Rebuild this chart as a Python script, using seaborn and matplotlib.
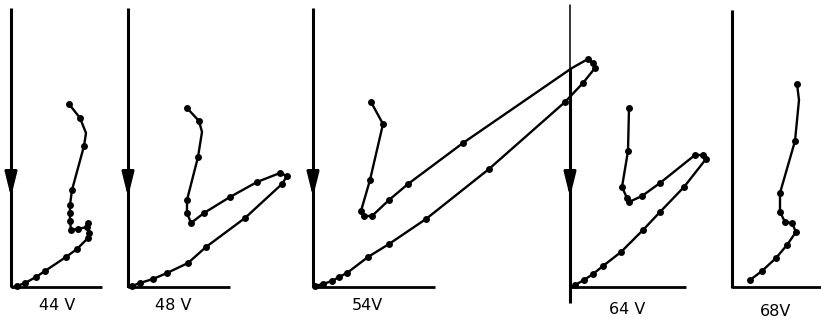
import pandas as pd
import seaborn as sns
import matplotlib.pyplot as plt

# traced trajectories, in picture pixel units (y grows downward)
v44_x = [69, 80, 86, 84, 72, 70, 70, 70, 71, 78, 87, 88, 89, 88, 77, 66, 45, 36, 25, 17, 12]
v44_y = [104, 118, 133, 146, 190, 205, 213, 221, 230, 229, 227, 223, 233, 238, 249, 257, 271, 277, 283, 286, 287]
v44_dot = [1, 1, 0, 1, 1, 1, 1, 1, 1, 1, 1, 1, 1, 1, 1, 1, 1, 1, 1, 1, 0]

v48_x = [187, 199, 202, 198, 187, 187, 191, 204, 230, 257, 280, 287, 282, 245, 206, 188, 167, 153, 140, 132, 128]
v48_y = [108, 121, 132, 157, 200, 213, 223, 213, 197, 182, 173, 176, 184, 218, 247, 263, 273, 279, 283, 286, 287]
v48_dot = [1, 1, 0, 1, 1, 1, 1, 1, 1, 1, 1, 1, 1, 1, 1, 1, 1, 1, 1, 1, 0]

v54_x = [371, 383, 370, 361, 364, 372, 389, 408, 463, 572, 588, 593, 595, 583, 565, 489, 426, 389, 368, 347, 339, 332, 323, 315]
v54_y = [102, 124, 180, 211, 216, 216, 200, 184, 143, 68, 59, 63, 68, 83, 102, 169, 219, 244, 257, 273, 277, 281, 284, 286]
v54_dot = [1, 1, 1, 1, 1, 1, 1, 1, 1, 0, 1, 1, 1, 1, 1, 1, 1, 1, 1, 1, 1, 1, 1, 1]

v64_x = [629, 628, 622, 627, 629, 642, 660, 695, 703, 706, 684, 660, 643, 621, 603, 593, 584, 575, 572]
v64_y = [108, 151, 187, 198, 202, 196, 183, 155, 155, 159, 187, 212, 230, 252, 266, 274, 280, 285, 287]
v64_dot = [1, 1, 1, 1, 1, 1, 1, 1, 1, 1, 1, 1, 1, 1, 1, 1, 1, 1, 0]

v68_x = [797, 799, 795, 780, 780, 785, 792, 796, 787, 776, 762, 750]
v68_y = [84, 100, 141, 193, 212, 222, 223, 232, 245, 258, 271, 280]
v68_dot = [1, 0, 1, 1, 1, 1, 1, 1, 1, 1, 1, 1]

labels = ["44 V", "48 V", "54V", "64 V", "68V"]

# frame of each panel: axis x, axis top, axis bottom, baseline end, arrow?
axis_x = [11, 128, 313, 570, 732]
axis_top = [8, 8, 8, 68, 10]
axis_bot = [287, 287, 287, 303, 288]
base_end = [102, 230, 435, 686, 821]
has_arrow = [True, True, True, True, False]
label_x = [57, 173, 367, 627, 776]
label_y = [306, 306, 306, 310, 311]

sns.set_style("white")
plt.rcParams['font.family'] = ['DejaVu Sans']

fig = plt.figure(figsize=(8.21, 3.21), dpi=100)
ax = fig.add_axes([0, 0, 1, 1])

# panel frames
for i in range(5):
    ax.plot([axis_x[i], axis_x[i]], [axis_top[i], axis_bot[i]], color="k", lw=2.2, solid_capstyle="butt")
    ax.plot([axis_x[i], base_end[i]], [287, 287], color="k", lw=2.0, solid_capstyle="butt")
    if has_arrow[i]:
        ax.annotate("", xy=(axis_x[i], 197), xytext=(axis_x[i], 170),
                    arrowprops=dict(arrowstyle="-|>,head_length=1.45,head_width=0.36",
                                    color="k", lw=2.2, shrinkA=0, shrinkB=0))
    ax.text(label_x[i], label_y[i], labels[i], ha="center", va="center", fontsize=11.5, color="k")

# thin top piece of the 64 V axis
ax.plot([570, 570], [5, 68], color="k", lw=1.1)

traces = [(v44_x, v44_y, v44_dot), (v48_x, v48_y, v48_dot), (v54_x, v54_y, v54_dot),
          (v64_x, v64_y, v64_dot), (v68_x, v68_y, v68_dot)]

for xs, ys, dots in traces:
    df = pd.DataFrame({"x": xs, "y": ys, "dot": dots})
    sns.lineplot(data=df, x="x", y="y", sort=False, estimator=None, color="k", lw=1.7, ax=ax)
    sns.scatterplot(data=df[df["dot"] == 1], x="x", y="y", color="k", s=25, edgecolor="k",
                    linewidth=0, ax=ax, zorder=3)

ax.set_xlim(0, 821)
ax.set_ylim(321, 0)
ax.set_axis_off()

plt.savefig("out.png", dpi=100)
